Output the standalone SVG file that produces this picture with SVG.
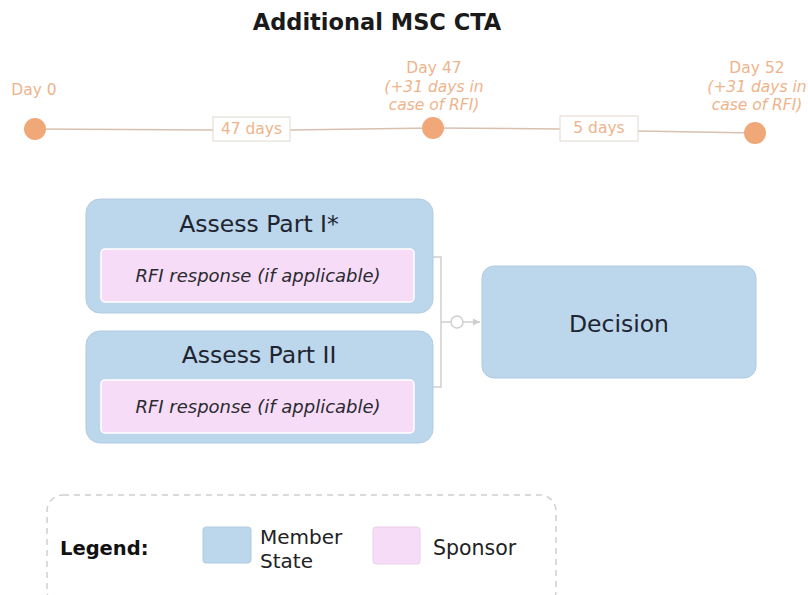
<svg xmlns="http://www.w3.org/2000/svg" width="808" height="595" viewBox="0 0 808 595">
<style>
text{font-family:"DejaVu Sans",Verdana,sans-serif}
.tl{fill:#eeb48c;font-size:15.5px}
.tli{fill:#eeb48c;font-size:15.5px;font-style:italic}
.dot{fill:#f0a878}
.dbox{fill:#fff;stroke:#e0d8d0;stroke-width:1}
.ms{fill:#bcd6ec;stroke:#b0cbe2;stroke-width:1}
.sp{fill:#f6dcf6;stroke:#fff;stroke-width:1.5}
.h{font-size:23.5px;fill:#1e2530;text-anchor:middle}
.r{font-size:18px;font-style:italic;fill:#2a2a30;text-anchor:middle}
.con{fill:none;stroke:#cfcfcf;stroke-width:1.5}
</style>
<defs><marker id="ah" markerWidth="8" markerHeight="8" refX="7" refY="4" orient="auto" markerUnits="userSpaceOnUse"><path d="M0,0.5 L7,4 L0,7.5 z" fill="#cfcfcf"/></marker></defs>
<text x="377" y="30" text-anchor="middle" font-size="22.5" font-weight="bold" fill="#1a1a1a">Additional MSC CTA</text>
<g id="timeline">
<path d="M35,129 L213,130 M290,130 L433,128 L560,129 M638,131 L755,133" stroke="#d8c0b0" stroke-width="1.5" fill="none"/>
<rect class="dbox" x="213" y="117" width="77" height="24"/>
<text class="tl" x="251.5" y="134" text-anchor="middle" font-size="12.5">47 days</text>
<rect class="dbox" x="560" y="116" width="78" height="25"/>
<text class="tl" x="599" y="133" text-anchor="middle" font-size="12.5">5 days</text>
<circle class="dot" cx="35" cy="129" r="11"/>
<circle class="dot" cx="433" cy="128" r="11"/>
<circle class="dot" cx="755" cy="133" r="11"/>
<text class="tl" x="34" y="95" text-anchor="middle">Day 0</text>
<text class="tl" x="434" y="73" text-anchor="middle">Day 47</text>
<text class="tli" x="434" y="92" text-anchor="middle">(+31 days in</text>
<text class="tli" x="434" y="110" text-anchor="middle">case of RFI)</text>
<text class="tl" x="757" y="73" text-anchor="middle">Day 52</text>
<text class="tli" x="757" y="92" text-anchor="middle">(+31 days in</text>
<text class="tli" x="757" y="110" text-anchor="middle">case of RFI)</text>
</g>
<g id="connectors">
<path class="con" d="M433,257 H441 V387 H433 M441,322 H451"/>
<circle cx="457" cy="322" r="6" fill="#fff" stroke="#cfcfcf" stroke-width="1.5"/>
<path class="con" d="M463,322 H480" marker-end="url(#ah)"/>
</g>
<g id="part1">
<rect class="ms" x="86" y="199" width="347" height="114" rx="14"/>
<text class="h" x="259" y="232">Assess Part I*</text>
<rect class="sp" x="101" y="249" width="313" height="53" rx="4"/>
<text class="r" x="258" y="282">RFI response (if applicable)</text>
</g>
<g id="part2">
<rect class="ms" x="86" y="331" width="347" height="112" rx="14"/>
<text class="h" x="259" y="363">Assess Part II</text>
<rect class="sp" x="101" y="380" width="313" height="53" rx="4"/>
<text class="r" x="258" y="413">RFI response (if applicable)</text>
</g>
<g id="decision">
<rect class="ms" x="482" y="266" width="274" height="112" rx="12"/>
<text class="h" x="619" y="332">Decision</text>
</g>
<g id="legend">
<rect x="47" y="495" width="509" height="112" rx="16" fill="none" stroke="#d0d0d0" stroke-width="1.5" stroke-dasharray="6,5"/>
<text x="60" y="555" font-size="19.5" font-weight="bold" fill="#111">Legend:</text>
<rect class="ms" x="203" y="527" width="48" height="36" rx="3"/>
<text x="260" y="544" font-size="20" fill="#222">Member</text>
<text x="260" y="568" font-size="20" fill="#222">State</text>
<rect x="373" y="527" width="47" height="37" rx="3" fill="#f6dcf6" stroke="#ead0ea"/>
<text x="433" y="555" font-size="20.5" fill="#222">Sponsor</text>
</g>
</svg>
